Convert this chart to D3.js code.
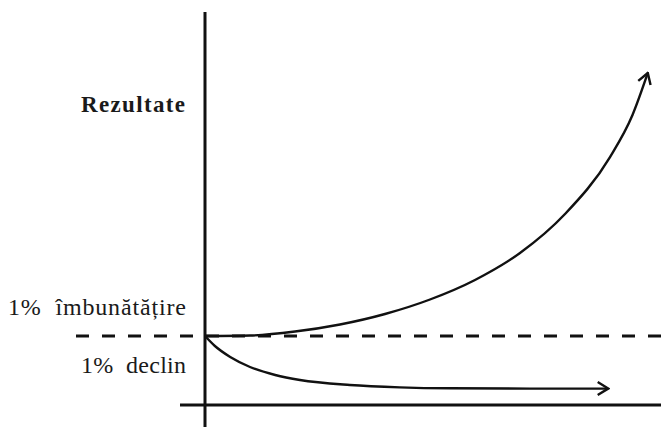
<!DOCTYPE html>
<html>
<head>
<meta charset="utf-8">
<script src="https://cdn.jsdelivr.net/npm/d3@7"></script>
<style>
  html, body { margin: 0; padding: 0; background: #fff; }
  svg { display: block; }
  text { font-family: "Liberation Serif", "DejaVu Serif", serif; fill: #1a1a1a; }
  .title { font-weight: bold; font-size: 23px; }
  .label { font-size: 24px; white-space: pre; }
</style>
</head>
<body>
<script>
/* Data (days, relative results) */

var improveDays   = [0, 10, 20, 30, 40, 50, 60, 70, 80, 90, 95, 98.4];
var improveValues = [1.0, 1.007, 1.065, 1.167, 1.319, 1.529, 1.812, 2.203, 2.768, 3.594, 4.203, 4.812];

var declineDays   = [0, 2.2, 5.6, 10, 15.6, 21.1, 32.2, 43.3, 54.4, 72.2, 89.6];
var declineValues = [1.0, 0.855, 0.696, 0.551, 0.435, 0.362, 0.290, 0.256, 0.242, 0.238, 0.238];

var yTitle      = "Rezultate",
    lineLabels  = ["1%  îmbunătățire", "1%  declin"];

/* Measures */

var W = 661,
    H = 427;

var LABEL_RIGHT   = 186,
    LABEL_WIDTHS  = [178, 105],
    LABEL_BASES   = [315, 373],
    AXIS_TOP      = 12,
    XAXIS_LEFT    = 180,
    DASH_LEFT     = 76,
    AXIS_WIDTH    = 3,
    CURVE_WIDTH   = 2.4;

var x = d3.scaleLinear().domain([0, 100]).range([205, 655]);
var y = d3.scaleLinear().domain([0, 5.7]).range([405, 11.7]);

var svg = d3.select("body").append("svg")
	.attr("width", W)
	.attr("height", H);

svg.append("defs").append("marker")
	.attr("id", "arrow")
	.attr("viewBox", "0 0 14 16")
	.attr("refX", 12.5)
	.attr("refY", 8)
	.attr("markerUnits", "userSpaceOnUse")
	.attr("markerWidth", 14)
	.attr("markerHeight", 16)
	.attr("orient", "auto")
	.append("path")
	.attr("d", "M2,1.5 L12.5,8 L2,14.5")
	.attr("fill", "none")
	.attr("stroke", "#111")
	.attr("stroke-width", 2.4);

/* Axes: plain lines, no ticks */

svg.append("line")
	.attr("x1", x(0)).attr("x2", x(0))
	.attr("y1", AXIS_TOP).attr("y2", H)
	.attr("stroke", "#111")
	.attr("stroke-width", AXIS_WIDTH);

svg.append("line")
	.attr("x1", XAXIS_LEFT).attr("x2", W)
	.attr("y1", y(0)).attr("y2", y(0))
	.attr("stroke", "#111")
	.attr("stroke-width", AXIS_WIDTH);

svg.append("line")
	.attr("x1", DASH_LEFT).attr("x2", W)
	.attr("y1", y(1)).attr("y2", y(1))
	.attr("stroke", "#111")
	.attr("stroke-width", AXIS_WIDTH)
	.attr("stroke-dasharray", "13 13");

/* Curves */

var line = d3.line()
	.x(function(d) { return x(d[0]); })
	.y(function(d) { return y(d[1]); })
	.curve(d3.curveMonotoneX);

var series = [d3.zip(improveDays, improveValues), d3.zip(declineDays, declineValues)];

svg.selectAll("path.curve")
	.data(series)
	.enter().append("path")
	.attr("class", "curve")
	.attr("d", line)
	.attr("fill", "none")
	.attr("stroke", "#111")
	.attr("stroke-width", CURVE_WIDTH)
	.attr("marker-end", "url(#arrow)");

/* Labels */

svg.append("text")
	.attr("class", "title")
	.attr("x", 81)
	.attr("y", 112)
	.attr("textLength", 104)
	.attr("lengthAdjust", "spacing")
	.text(yTitle);

svg.selectAll("text.label")
	.data(lineLabels)
	.enter().append("text")
	.attr("class", "label")
	.attr("x", function(d, i) { return LABEL_RIGHT - LABEL_WIDTHS[i]; })
	.attr("y", function(d, i) { return LABEL_BASES[i]; })
	.attr("textLength", function(d, i) { return LABEL_WIDTHS[i]; })
	.attr("lengthAdjust", "spacing")
	.text(String);
</script>
</body>
</html>
